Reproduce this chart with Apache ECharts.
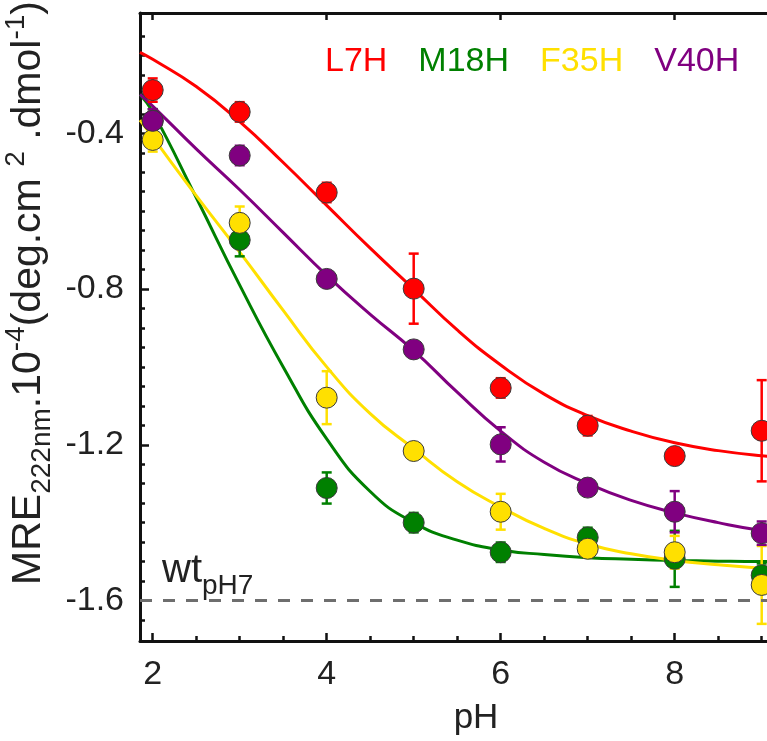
<!DOCTYPE html>
<html>
<head>
<meta charset="utf-8">
<script src="https://cdn.jsdelivr.net/npm/echarts@6/dist/echarts.min.js"></script>
<style>
  html, body { margin: 0; padding: 0; background: #fff; }
  #chart { width: 767px; height: 741px; }
</style>
</head>
<body>
<div id="chart"></div>
<script>
// Measured pH points
const pH = [2, 3, 4, 5, 6, 7, 8, 9];

// Mean residue ellipticity at 222 nm (x10^-4 deg.cm2.dmol-1) and its error
const L7H  = [-0.289, -0.345, -0.552, -0.799, -1.054, -1.151, -1.229, -1.164];
const L7H_err  = [0.03, 0.025, 0.025, 0.09, 0.025, 0.025, 0.02, 0.13];
const M18H = [-0.368, -0.674, -1.311, -1.400, -1.476, -1.438, -1.493, -1.535];
const M18H_err = [0.03, 0.042, 0.04, 0.025, 0.025, 0.025, 0.072, 0.03];
const F35H = [-0.417, -0.630, -1.079, -1.216, -1.372, -1.467, -1.476, -1.560];
const F35H_err = [0.03, 0.042, 0.068, 0.02, 0.046, 0.02, 0.042, 0.10];
const V40H = [-0.368, -0.457, -0.774, -0.955, -1.199, -1.310, -1.372, -1.427];
const V40H_err = [0.03, 0.025, 0.02, 0.02, 0.044, 0.02, 0.053, 0.03];

// Titration fit curves, sampled along pH
const fitPH = [1.854, 2, 2.5, 3, 3.5, 4, 4.5, 5, 5.5, 6, 6.5, 7, 7.5, 8, 8.5, 9, 9.5];
const L7H_fit  = [-0.192, -0.21, -0.28, -0.37, -0.475, -0.585, -0.695, -0.80, -0.905, -0.995, -1.07, -1.125, -1.165, -1.195, -1.215, -1.228, -1.236];
const M18H_fit = [-0.30, -0.345, -0.565, -0.79, -1.0, -1.185, -1.32, -1.40, -1.445, -1.47, -1.482, -1.49, -1.494, -1.497, -1.499, -1.50, -1.50];
const F35H_fit = [-0.366, -0.41, -0.56, -0.705, -0.855, -1.0, -1.12, -1.21, -1.295, -1.36, -1.415, -1.455, -1.48, -1.497, -1.508, -1.517, -1.522];
const V40H_fit = [-0.30, -0.33, -0.44, -0.545, -0.655, -0.765, -0.865, -0.958, -1.065, -1.165, -1.245, -1.30, -1.343, -1.375, -1.40, -1.42, -1.432];

// Wild-type reference level at pH 7
const wtLevel = -1.6;

// Axis ticks
const xMajor = [2, 4, 6, 8];
const xMinor = [2.5, 3, 3.5, 4.5, 5, 5.5, 6.5, 7, 7.5, 8.5, 9];
const yMajor = [-1.6, -1.2, -0.8, -0.4];
const yMinor = [-1.65, -1.55, -1.5, -1.45, -1.4, -1.35, -1.3, -1.25, -1.15, -1.1, -1.05, -1.0, -0.95, -0.9, -0.85,
                -0.75, -0.7, -0.65, -0.6, -0.55, -0.5, -0.45, -0.35, -0.3, -0.25, -0.2, -0.15];

const X_MIN = 1.854, X_MAX = 9.061, Y_MIN = -1.704, Y_MAX = -0.091;
const FONT = "'Liberation Sans', Arial, sans-serif";
const INK = '#222222';

const variants = [
  { name: 'L7H',  color: '#ff0000', mean: L7H,  err: L7H_err,  fit: L7H_fit },
  { name: 'M18H', color: '#008000', mean: M18H, err: M18H_err, fit: M18H_fit },
  { name: 'F35H', color: '#ffe000', mean: F35H, err: F35H_err, fit: F35H_fit },
  { name: 'V40H', color: '#800080', mean: V40H, err: V40H_err, fit: V40H_fit }
];

function pairs(xs, ys) { return xs.map((x, i) => [x, ys[i]]); }

function errorBarSeries(v) {
  return {
    type: 'custom',
    name: v.name,
    data: pH.map((x, i) => [x, v.mean[i] - v.err[i], v.mean[i] + v.err[i]]),
    encode: { x: 0, y: [1, 2] },
    renderItem: function (params, api) {
      const lo = api.coord([api.value(0), api.value(1)]);
      const hi = api.coord([api.value(0), api.value(2)]);
      const w = 5;
      const style = { stroke: v.color, lineWidth: 2.5 };
      return {
        type: 'group',
        children: [
          { type: 'line', shape: { x1: lo[0], y1: lo[1], x2: hi[0], y2: hi[1] }, style: style },
          { type: 'line', shape: { x1: lo[0] - w, y1: lo[1], x2: lo[0] + w, y2: lo[1] }, style: style },
          { type: 'line', shape: { x1: hi[0] - w, y1: hi[1], x2: hi[0] + w, y2: hi[1] }, style: style }
        ]
      };
    }
  };
}

const series = [];
// fit curves underneath everything
variants.forEach(function (v, idx) {
  const s = {
    type: 'line',
    name: v.name + ' fit',
    data: pairs(fitPH, v.fit),
    smooth: true,
    showSymbol: false,
    symbol: 'none',
    lineStyle: { color: v.color, width: 3 },
    z: 2
  };
  if (idx === 0) {
    s.markLine = {
      silent: true,
      symbol: 'none',
      lineStyle: { color: '#6e6e6e', width: 3, type: [12, 11] },
      label: {
        show: true,
        position: 'insideStartTop',
        distance: [22, 0],
        formatter: '{a|wt}{b|pH7}',
        rich: {
          a: { fontSize: 40, color: INK, fontFamily: FONT, lineHeight: 60 },
          b: { fontSize: 28, color: INK, fontFamily: FONT, verticalAlign: 'bottom', lineHeight: 30 }
        }
      },
      data: [{ yAxis: wtLevel }]
    };
  }
  series.push(s);
});
// error bars and markers, per variant
variants.forEach(function (v) {
  const eb = errorBarSeries(v);
  eb.z = 3;
  series.push(eb);
  series.push({
    type: 'scatter',
    name: v.name,
    data: pairs(pH, v.mean),
    symbol: 'circle',
    symbolSize: 21,
    itemStyle: { color: v.color, borderColor: '#3a3a3a', borderWidth: 1, opacity: 1 },
    z: 3
  });
});

function xAxisBase(pos) {
  return {
    type: 'value', min: X_MIN, max: X_MAX, position: pos, splitLine: { show: false }
  };
}
function yAxisBase() {
  return { type: 'value', min: Y_MIN, max: Y_MAX, position: 'left', splitLine: { show: false } };
}

const chart = echarts.init(document.getElementById('chart'), null, { renderer: 'canvas' });
chart.setOption({
  animation: false,
  backgroundColor: '#ffffff',
  grid: { left: 140, top: 13, right: 0, bottom: 91, containLabel: false },
  legend: {
    left: 315, top: 40,
    itemWidth: 0, itemHeight: 0, itemGap: 26,
    icon: 'rect',
    selectedMode: false,
    textStyle: { fontSize: 34, fontFamily: FONT },
    data: variants.map(v => ({ name: v.name, textStyle: { color: v.color } }))
  },
  xAxis: [
    Object.assign(xAxisBase('bottom'), {
      name: 'pH', nameLocation: 'middle', nameGap: 60,
      nameTextStyle: { fontSize: 35, color: INK, fontFamily: FONT, padding: [0, 0, 0, 45] },
      axisLine: { show: true, lineStyle: { color: '#111', width: 3 } },
      axisTick: { show: true, inside: true, length: 8, lineStyle: { color: '#111', width: 2.5 }, customValues: xMajor },
      axisLabel: { show: true, fontSize: 34, color: INK, fontFamily: FONT, margin: 17, customValues: xMajor }
    }),
    Object.assign(xAxisBase('bottom'), {
      offset: 0,
      axisLine: { show: false },
      axisTick: { show: true, inside: true, length: 5, lineStyle: { color: '#111', width: 2.5 }, customValues: xMinor },
      axisLabel: { show: false }
    }),
    Object.assign(xAxisBase('top'), {
      axisLine: { show: true, lineStyle: { color: '#111', width: 3 } },
      axisTick: { show: true, inside: true, length: 7, lineStyle: { color: '#111', width: 2.5 }, customValues: xMajor },
      axisLabel: { show: false }
    })
  ],
  yAxis: [
    Object.assign(yAxisBase(), {
      axisLine: { show: true, lineStyle: { color: '#111', width: 3 } },
      axisTick: { show: true, inside: true, length: 9, lineStyle: { color: '#111', width: 2.5 }, customValues: yMajor },
      axisLabel: {
        show: true, fontSize: 34, color: INK, fontFamily: FONT, margin: 16, customValues: yMajor,
        formatter: v => v.toFixed(1)
      }
    }),
    Object.assign(yAxisBase(), {
      offset: 0,
      axisLine: { show: false },
      axisTick: { show: true, inside: true, length: 5, lineStyle: { color: '#111', width: 2.5 }, customValues: yMinor },
      axisLabel: { show: false }
    })
  ],
  graphic: [{
    type: 'text',
    x: 29, y: 293,
    rotation: Math.PI / 2,
    style: {
      text: '{m|MRE}{s|222nm}{m|.10}{p|-4}{m|(deg.cm }{p|2}{m| .dmol}{p|-1}{m|)}',
      align: 'center', verticalAlign: 'middle',
      rich: {
        m: { fontSize: 41, fill: INK, fontFamily: FONT, lineHeight: 54 },
        s: { fontSize: 28, fill: INK, fontFamily: FONT, verticalAlign: 'bottom', lineHeight: 36 },
        p: { fontSize: 28, fill: INK, fontFamily: FONT, verticalAlign: 'top', lineHeight: 36 }
      }
    }
  }],
  series: series
});
</script>
</body>
</html>
